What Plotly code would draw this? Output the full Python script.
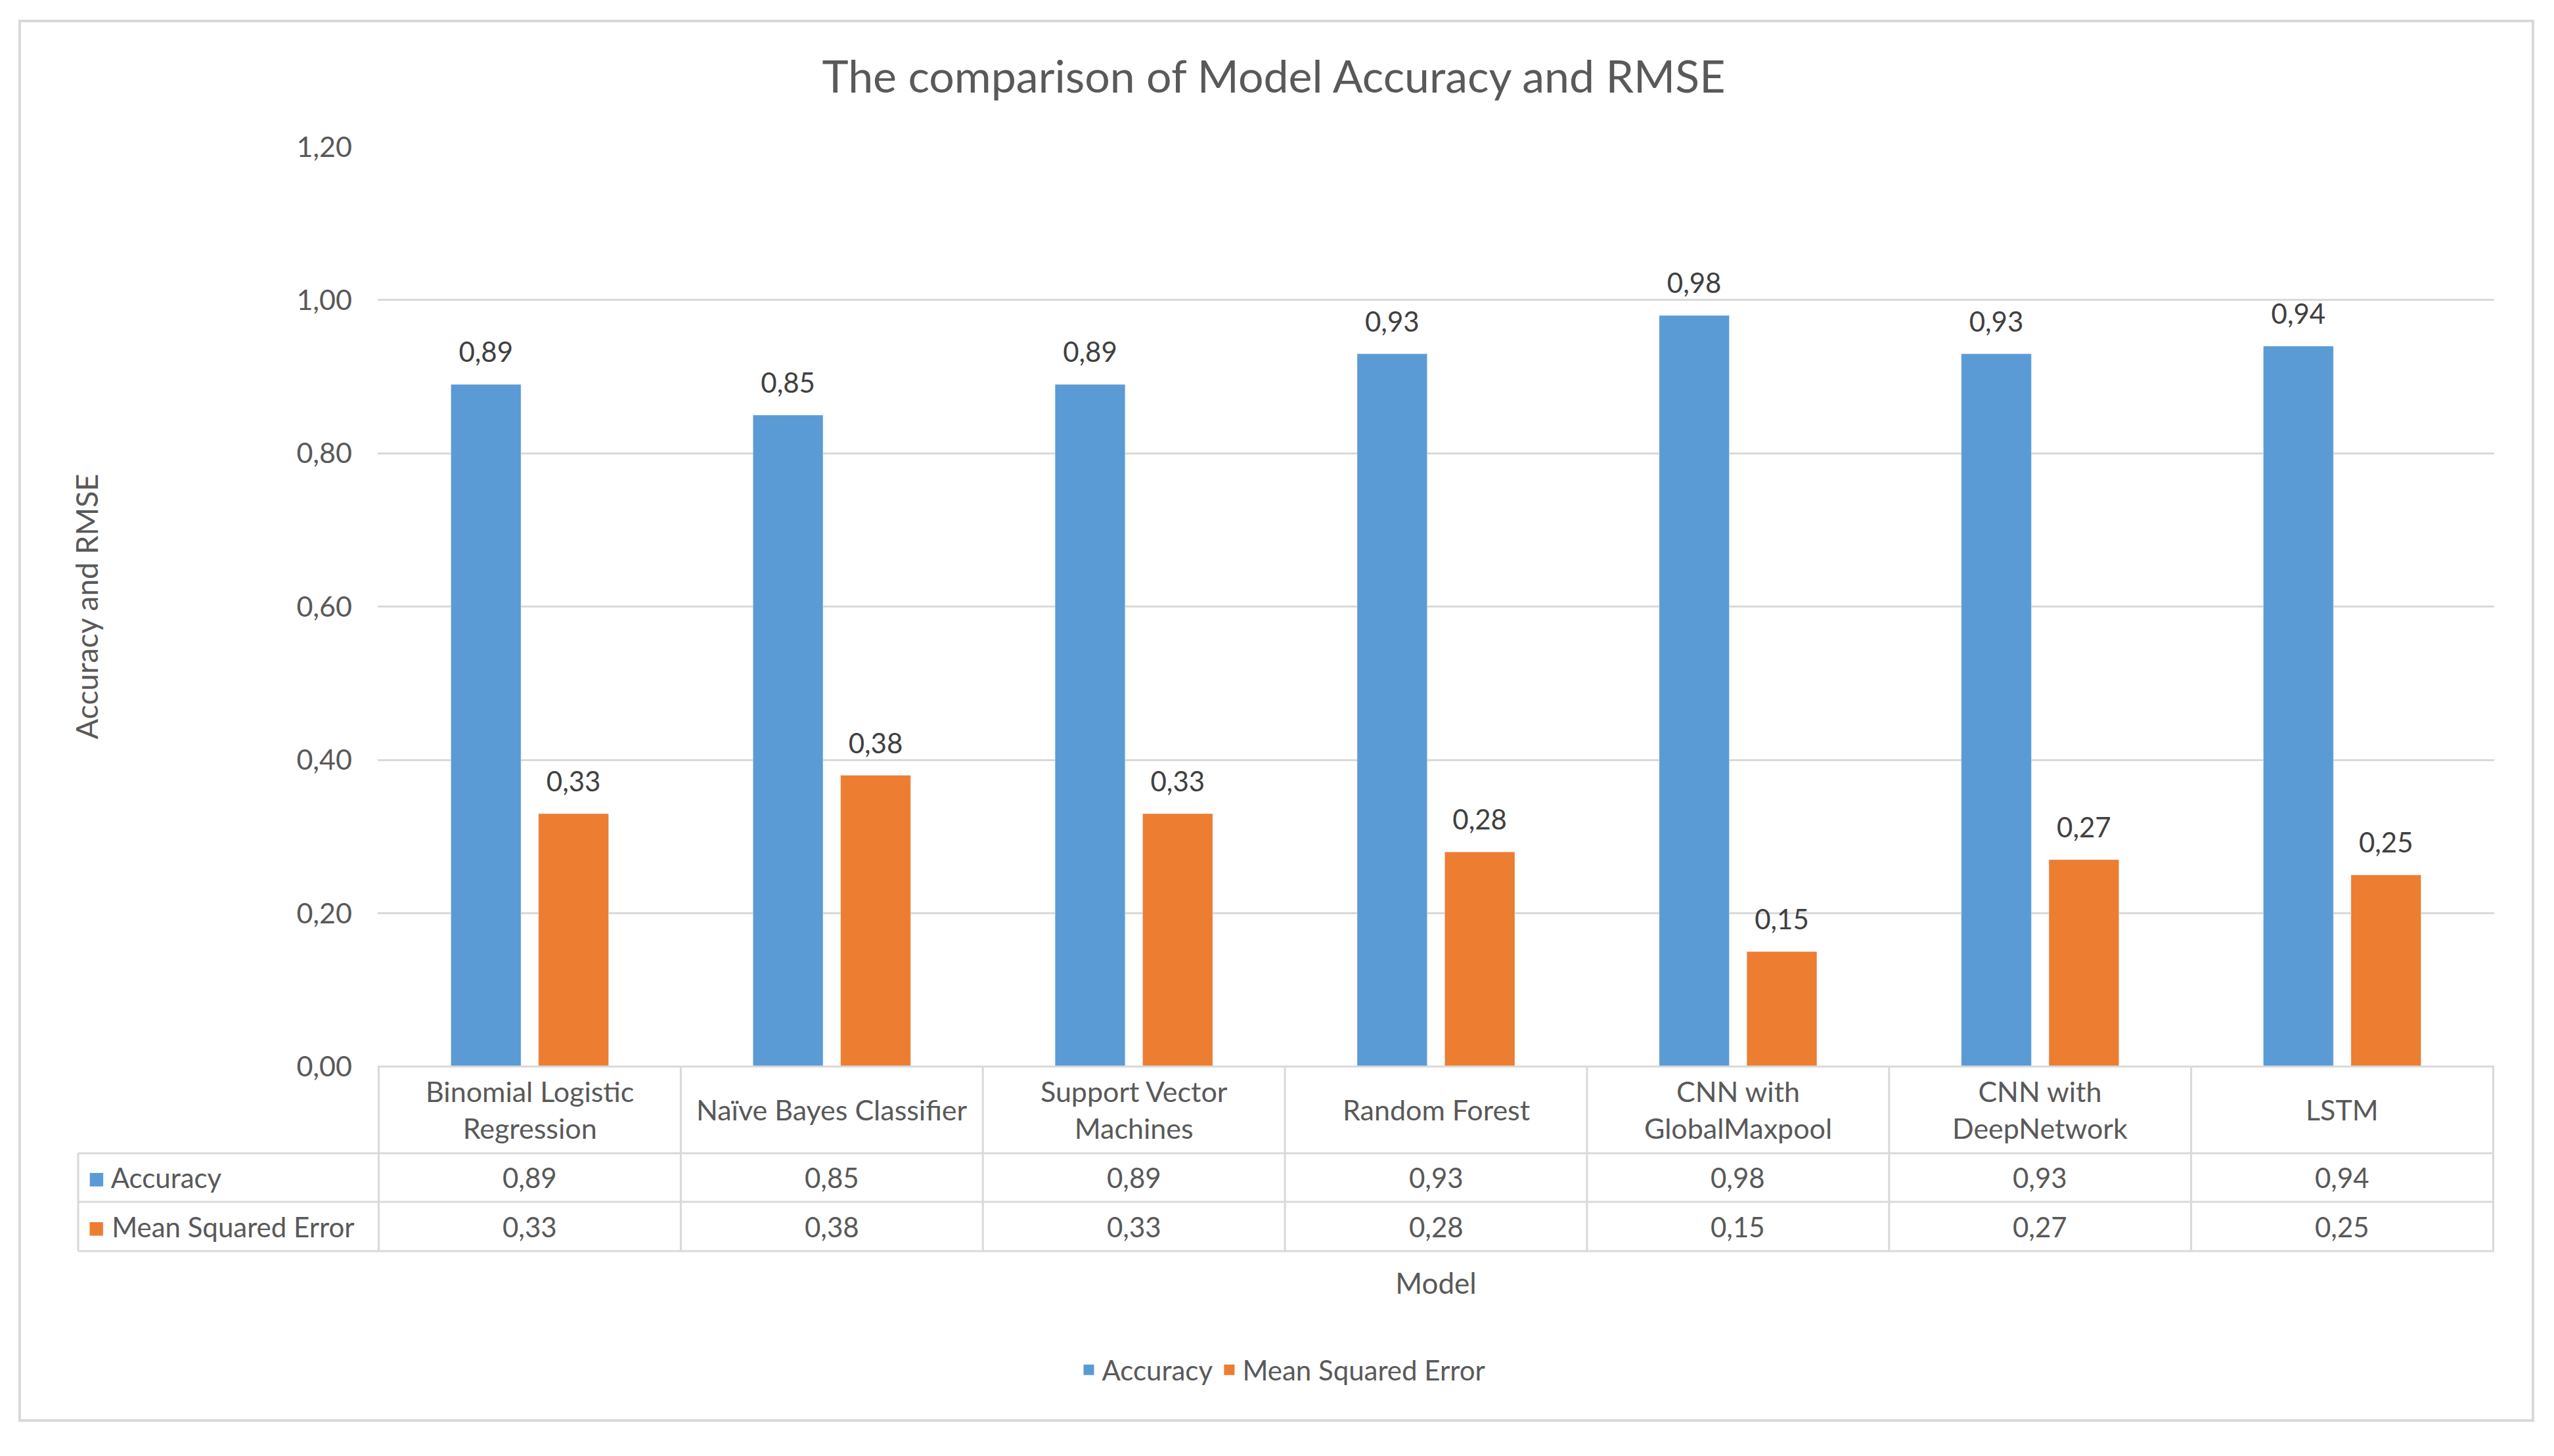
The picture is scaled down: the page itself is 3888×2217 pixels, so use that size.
import plotly.graph_objects as go

# data
models = ["Binomial Logistic Regression", "Naïve Bayes Classifier", "Support Vector Machines",
          "Random Forest", "CNN with GlobalMaxpool", "CNN with DeepNetwork", "LSTM"]
model_labels = ["Binomial Logistic<br>Regression", "Naïve Bayes Classifier", "Support Vector<br>Machines",
                "Random Forest", "CNN with<br>GlobalMaxpool", "CNN with<br>DeepNetwork", "LSTM"]
accuracy = [0.89, 0.85, 0.89, 0.93, 0.98, 0.93, 0.94]
mse = [0.33, 0.38, 0.33, 0.28, 0.15, 0.27, 0.25]
y_ticks = [0.0, 0.2, 0.4, 0.6, 0.8, 1.0, 1.2]

blue = "#5B9BD5"
orange = "#ED7D31"
grid = "#D9D9D9"
txt = "#595959"
font_family = "Lato"

# page geometry in pixels (page body has an 8px margin)
OFF = 8
W, H = 3888 - 2 * OFF, 2217 - 2 * OFF
L, R, T = 575 - OFF, 91 - OFF, 223 - OFF
B = H - (1624 - OFF)
plot_w = W - L - R
plot_h = H - T - B
gap = 0.42

def px(x):
    # reference pixel x -> paper x
    return (x - OFF - L) / plot_w

def py(y):
    # reference pixel y (from top) -> paper y
    return (H - B - (y - OFF)) / plot_h

def fmt(v):
    return f"{v:.2f}".replace(".", ",")

fig = go.Figure()
series = [("Accuracy", accuracy, blue), ("Mean Squared Error", mse, orange)]
for name, vals, col in series:
    fig.add_trace(go.Bar(x=models, y=vals, name=name, marker_color=col, offsetgroup=name,
                         showlegend=False, hovertemplate="%{x}: %{y:.2f}<extra></extra>"))
# value labels sitting a little above the bars (same grouping as the bars)
for name, vals, col in series:
    fig.add_trace(go.Scatter(x=models, y=vals, mode="markers+text", offsetgroup=name,
                             text=[fmt(v) for v in vals], textposition="top center",
                             textfont=dict(size=42, color="#404040"),
                             marker=dict(size=36, opacity=0), cliponaxis=False,
                             showlegend=False, hoverinfo="skip"))
# legend entries with square keys
for name, vals, col in series:
    fig.add_trace(go.Scatter(x=[None], y=[None], mode="markers", name=name, legendgroup=name,
                             marker=dict(symbol="square", size=22, color=col)))

shapes = []
line = dict(color=grid, width=3)
# outer chart border
shapes.append(dict(type="rect", xref="paper", yref="paper", x0=px(30), x1=px(3856),
                   y0=py(2163), y1=py(32), line=dict(color=grid, width=4), layer="below"))
# data table
row_top, row1, row2, row3 = 1624, 1756, 1830, 1905
shapes.append(dict(type="line", xref="paper", yref="paper", x0=0, x1=1, y0=py(row_top), y1=py(row_top), line=line))
for yy in [row1, row2, row3]:
    shapes.append(dict(type="line", xref="paper", yref="paper", x0=px(119), x1=1, y0=py(yy), y1=py(yy), line=line))
shapes.append(dict(type="line", xref="paper", yref="paper", x0=px(119), x1=px(119), y0=py(row1), y1=py(row3), line=line))
for i in range(len(models) + 1):
    shapes.append(dict(type="line", xref="x", yref="paper", x0=i - 0.5, x1=i - 0.5,
                       y0=py(row_top), y1=py(row3), line=line))

annotations = []
for i, lab in enumerate(model_labels):
    annotations.append(dict(x=models[i], xref="x", y=py((row_top + row1) / 2), yref="paper",
                            text=lab, showarrow=False, yanchor="middle",
                            font=dict(size=43, color=txt)))
    annotations.append(dict(x=models[i], xref="x", y=py((row1 + row2) / 2), yref="paper",
                            text=fmt(accuracy[i]), showarrow=False, yanchor="middle",
                            font=dict(size=42, color=txt)))
    annotations.append(dict(x=models[i], xref="x", y=py((row2 + row3) / 2), yref="paper",
                            text=fmt(mse[i]), showarrow=False, yanchor="middle",
                            font=dict(size=42, color=txt)))
for name, col, ya, yb in [("Accuracy", blue, row1, row2), ("Mean Squared Error", orange, row2, row3)]:
    annotations.append(dict(x=px(132), xref="paper", y=py((ya + yb) / 2), yref="paper",
                            xanchor="left", yanchor="middle", showarrow=False,
                            text=f"<span style='color:{col}'>■</span> {name}",
                            font=dict(size=42, color=txt)))

fig.update_layout(
    width=W, height=H,
    margin=dict(l=L, r=R, t=T, b=B),
    paper_bgcolor="white", plot_bgcolor="white",
    separators=", ",
    font=dict(family=font_family, size=42, color=txt),
    title=dict(text="The comparison of Model Accuracy and RMSE", x=(1939 - OFF) / W, xanchor="center",
               y=1 - (117 - OFF) / H, yanchor="middle", font=dict(size=68, color=txt)),
    barmode="group", bargap=gap, bargroupgap=0.2,
    scattermode="group", scattergap=gap,
    xaxis=dict(showticklabels=False, showgrid=False, zeroline=False, showline=False,
               title=dict(text="Model", standoff=315, font=dict(size=44, color=txt))),
    yaxis=dict(range=[0, 1.2005], tickvals=y_ticks, tickformat=".2f", showgrid=True, gridcolor=grid,
               gridwidth=3, zeroline=False, showline=False, ticks="", ticklabelstandoff=38,
               tickfont=dict(size=43, color=txt),
               title=dict(text="Accuracy and RMSE", standoff=287, font=dict(size=46, color=txt))),
    legend=dict(orientation="h", x=px(1952), xanchor="center", y=py(2086), yanchor="middle",
                font=dict(size=42, color=txt), itemsizing="trace",
                traceorder="grouped", tracegroupgap=50),
    shapes=shapes,
    annotations=annotations,
)

fig.write_html("out.html")
